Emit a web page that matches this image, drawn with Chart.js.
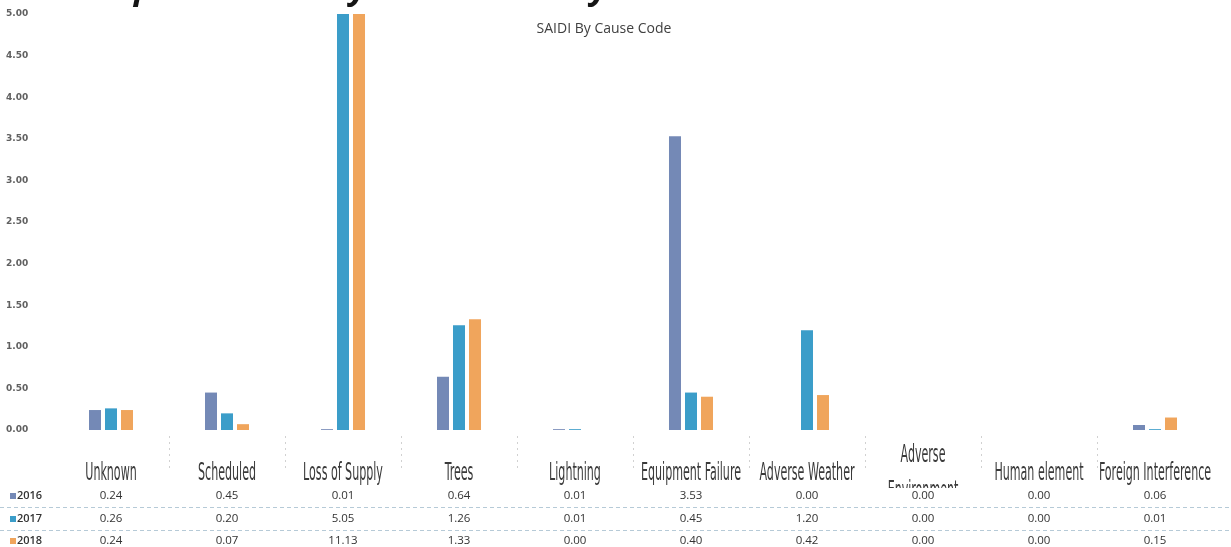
<!DOCTYPE html>
<html>
<head>
<meta charset="utf-8">
<title>SAIDI By Cause Code</title>
<script src="https://cdn.jsdelivr.net/npm/chart.js@4.4.1/dist/chart.umd.min.js"></script>
<style>
  html, body { margin: 0; padding: 0; background: #ffffff; }
  #wrap { width: 1231px; height: 547px; position: relative; }
</style>
</head>
<body>
<div id="wrap"><canvas id="saidi" width="1231" height="547"></canvas></div>
<script>
// Cause codes shown along the category axis / data table header
const categories = [
  'Unknown', 'Scheduled', 'Loss of Supply', 'Trees', 'Lightning',
  'Equipment Failure', 'Adverse Weather', 'Adverse Environment',
  'Human element', 'Foreign Interference'
];
const years = ['2016', '2017', '2018'];

// SAIDI (minutes) per cause code, one array per year
const saidi2016 = [0.24, 0.45, 0.01, 0.64, 0.01, 3.53, 0.00, 0.00, 0.00, 0.06];
const saidi2017 = [0.26, 0.20, 5.05, 1.26, 0.01, 0.45, 1.20, 0.00, 0.00, 0.01];
const saidi2018 = [0.24, 0.07, 11.13, 1.33, 0.00, 0.40, 0.42, 0.00, 0.00, 0.15];

const yearColors = ['#7489b6', '#3b9dc9', '#f0a55c'];
const pageTitle = 'Graph 2 \u2013 SAIDI by Cause Code by Year';
const chartTitle = 'SAIDI By Cause Code';

const seriesValues = [saidi2016, saidi2017, saidi2018];

// Draws the heading text and the data table underneath the plot
const tablePlugin = {
  id: 'causeTable',
  afterDraw(chart) {
    const ctx = chart.ctx;
    const x = chart.scales.x;
    ctx.save();

    // page heading (cropped at the top edge)
    ctx.fillStyle = '#151515';
    ctx.font = 'italic bold 34px "Open Sans", sans-serif';
    ctx.textAlign = 'left';
    ctx.textBaseline = 'alphabetic';
    ctx.fillText(pageTitle, 76, -1);

    // chart title
    ctx.fillStyle = '#404040';
    ctx.font = '14px "Open Sans", sans-serif';
    ctx.textAlign = 'center';
    ctx.fillText(chartTitle, 604, 33);

    // faint vertical separators between table columns
    ctx.strokeStyle = 'rgba(140,140,140,0.4)';
    ctx.lineWidth = 1;
    ctx.setLineDash([2, 4]);
    for (let i = 0; i < categories.length - 1; i++) {
      const bx = Math.round((x.getPixelForValue(i) + x.getPixelForValue(i + 1)) / 2) + 0.5;
      ctx.beginPath();
      ctx.moveTo(bx, 436);
      ctx.lineTo(bx, 470);
      ctx.stroke();
    }

    // horizontal row separators
    ctx.strokeStyle = 'rgba(110,150,175,0.5)';
    ctx.setLineDash([4, 3]);
    [507.5, 530.5].forEach(yy => {
      ctx.beginPath();
      ctx.moveTo(0, yy);
      ctx.lineTo(1231, yy);
      ctx.stroke();
    });
    ctx.setLineDash([]);

    // category headers: tall condensed lettering
    ctx.font = '24px "Liberation Sans Narrow", "DejaVu Sans Condensed", sans-serif';
    const sx = 100 / ctx.measureText('Equipment Failure').width;
    ctx.fillStyle = '#3a3a3a';
    ctx.textAlign = 'center';
    ctx.textBaseline = 'alphabetic';
    const drawHead = (txt, cx, base) => {
      ctx.save();
      ctx.translate(cx, base);
      ctx.scale(sx, 1);
      ctx.fillText(txt, 0, 0);
      ctx.restore();
    };
    categories.forEach((c, i) => {
      const cx = x.getPixelForValue(i);
      if (c === 'Adverse Environment') {
        drawHead('Adverse', cx, 462);
        ctx.save();
        ctx.beginPath();
        ctx.rect(cx - 80, 470, 160, 18);
        ctx.clip();
        drawHead('Environment', cx, 498);
        ctx.restore();
      } else {
        drawHead(c, cx, 480);
      }
    });

    // value rows
    const rowY = [496, 519, 541];
    ctx.textBaseline = 'middle';
    years.forEach((yr, r) => {
      const yy = rowY[r];
      // legend key
      ctx.fillStyle = yearColors[r];
      ctx.fillRect(10, yy - 3, 6, 6);
      ctx.fillStyle = '#333333';
      ctx.font = '600 11px "Open Sans", sans-serif';
      ctx.textAlign = 'left';
      ctx.fillText(yr, 17, yy);
      // values
      ctx.font = '500 11.5px "Open Sans", sans-serif';
      ctx.textAlign = 'center';
      seriesValues[r].forEach((v, i) => {
        ctx.fillText(v.toFixed(2), x.getPixelForValue(i), yy);
      });
    });

    ctx.restore();
  }
};

new Chart(document.getElementById('saidi'), {
  type: 'bar',
  data: {
    labels: categories,
    datasets: years.map((yr, r) => ({
      label: yr,
      data: seriesValues[r],
      backgroundColor: yearColors[r],
      borderWidth: 0,
      categoryPercentage: 0.414,
      barPercentage: 0.75
    }))
  },
  options: {
    responsive: false,
    animation: false,
    devicePixelRatio: 1,
    layout: { padding: { left: 6, right: 18, top: 14, bottom: 117 } },
    plugins: {
      legend: { display: false },
      title: { display: false },
      tooltip: { enabled: false }
    },
    scales: {
      x: {
        display: false,
        grid: { display: false }
      },
      y: {
        min: 0,
        max: 5,
        grid: { display: false },
        border: { display: false },
        afterFit(scale) { scale.width = 47; },
        ticks: {
          stepSize: 0.5,
          crossAlign: 'far',
          color: '#606060',
          font: { family: '"DejaVu Sans", sans-serif', size: 9, weight: 'bold' },
          callback: v => Number(v).toFixed(2)
        }
      }
    }
  },
  plugins: [tablePlugin]
});
</script>
</body>
</html>
